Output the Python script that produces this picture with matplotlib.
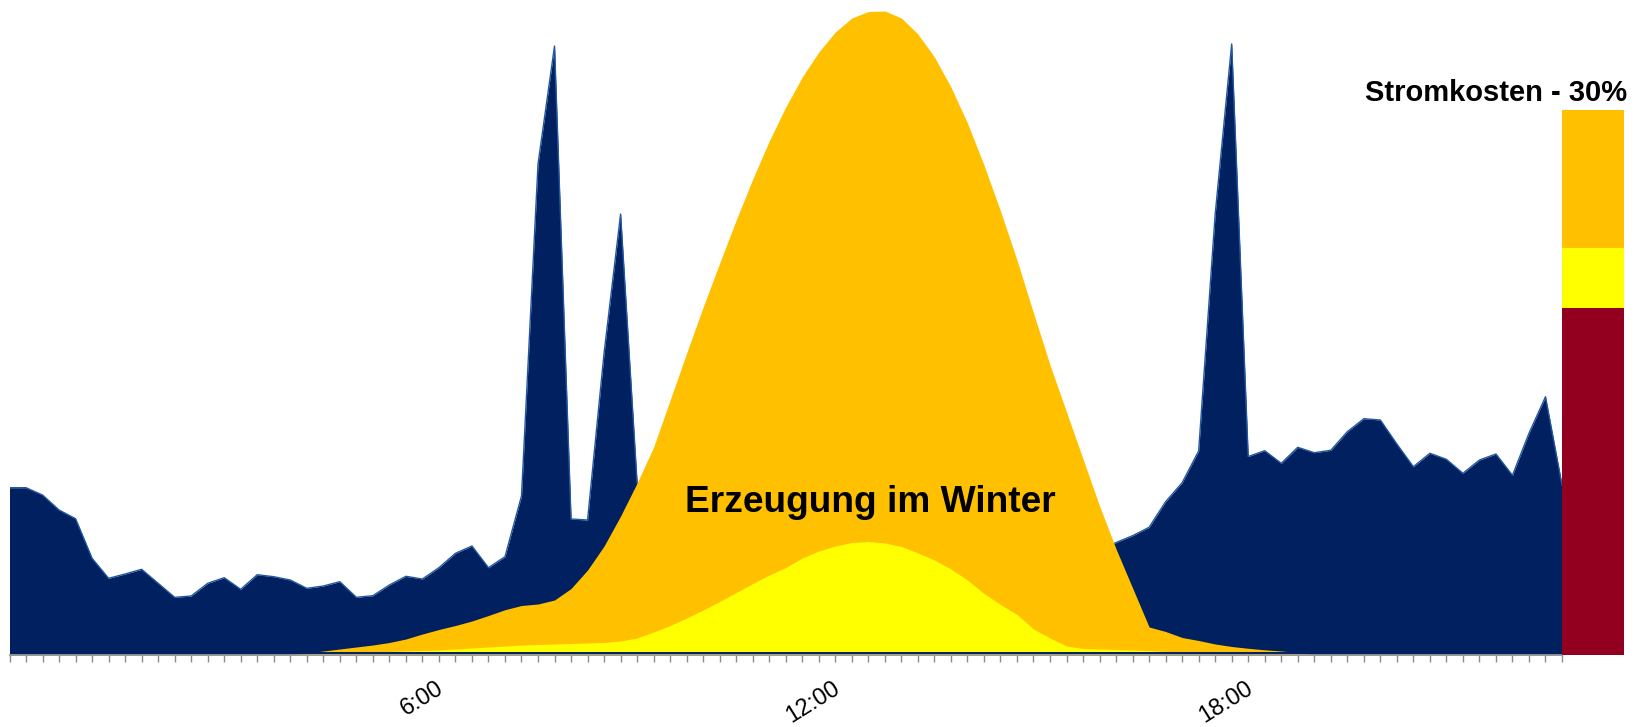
import numpy as np
import matplotlib
matplotlib.use("Agg")
import matplotlib.pyplot as plt
import matplotlib.transforms as mtransforms

plt.rcParams['font.family'] = ['Liberation Sans', 'DejaVu Sans']

# Lastgang (15-min Werte), Höhe in Pixel-Einheiten der Vorlage
load = [167.3, 167.3, 160, 145, 136.3, 96.7, 76.7, 81, 85.7, 71.7,
        57.7, 59, 71.7, 77.3, 65.7, 80.3, 78.3, 75, 66.7, 69,
        73.3, 57.7, 59.3, 70, 78.7, 76, 87.3, 101.7, 109, 87.3,
        98.3, 159, 491, 609, 136, 135, 302, 441, 172, 130,
        125, 120, 118, 122, 115, 110, 112, 108, 105, 110,
        104, 100, 106, 102, 98, 104, 100, 96, 102, 99,
        95, 101, 97, 100, 103, 104, 105, 112.5, 119.3, 127.7,
        153.3, 172.3, 204, 440.7, 611, 198.5, 204.3, 191.7, 207.7, 202.3,
        204.7, 223.3, 236.3, 235, 211, 188.3, 201.7, 195.7, 181.7, 195,
        201, 179.7, 221.7, 258.3, 170]

# PV-Erzeugung (Sommer) und Erzeugung im Winter
summer = [0] * 18 + [
    2, 4, 6, 8, 10, 12.5, 16, 21, 25.5, 29.5,
    34, 39.5, 45.3, 49.5, 51, 55, 66.5, 85, 109, 139,
    172, 208, 255, 302, 348, 392, 435, 476, 514, 548,
    578, 603, 623, 637, 643.5, 644, 637, 621, 598, 568,
    532, 490, 444, 395, 342, 290, 243, 196, 149, 106,
    67, 28, 23.5, 17.5, 14.5, 11, 8.5, 6.7, 5.2, 4,
    2.5, 0] + [0] * 15

winter = [0] * 18 + [
    1, 1.5, 2, 2.5, 3, 3.5, 4, 4.5, 5, 6,
    7, 8, 9, 10, 10.5, 11, 11.5, 12, 12.5, 14,
    17, 23, 29.5, 37, 45, 53.5, 62.5, 71.5, 80, 87.5,
    97, 104, 109, 112.5, 113.5, 112, 108.5, 102, 95, 86,
    75, 61.5, 50.5, 40.5, 26, 17, 9, 6.5, 6, 5.5,
    5, 4.5, 3.5, 2, 1, 0] + [0] * 21

label_pos = [26, 50, 75]
label_text = ['6:00', '12:00', '18:00']

# Stromkosten-Balken (Anteile von unten nach oben)
cost_shares = [63.7, 11.0, 25.3]
cost_colors = ['#93001F', '#FFFF00', '#FFC000']

W, H = 1639, 727
navy = '#002060'


def main():
    fig = plt.figure(figsize=(W / 100, H / 100), dpi=100)
    ax = fig.add_axes([9.5 / W, 72 / H, 1552.5 / W, 655 / H])

    x = np.arange(len(load))
    ax.fill_between(x, load, color=navy, lw=0, zorder=1)
    ax.plot(x, load, color='#2358a0', lw=1.0, zorder=1.5)
    ax.fill_between(x, summer, color='#FFC000', lw=0, zorder=2)
    ax.fill_between(x, winter, color='#FFFF00', lw=0, zorder=3)
    ax.axhline(2.4, color=navy, lw=1.4, zorder=4)

    ax.set_xlim(0, len(load) - 1)
    ax.set_ylim(0, 655)
    for s in ['top', 'right', 'left']:
        ax.spines[s].set_visible(False)
    ax.spines['bottom'].set_color('#9a9a9a')
    ax.spines['bottom'].set_linewidth(1.3)
    ax.spines['bottom'].set_zorder(5)

    labels = [''] * len(load)
    for p, t in zip(label_pos, label_text):
        labels[p] = t
    ax.set_xticks(x)
    ax.set_xticklabels(labels, rotation=32, ha='right', rotation_mode='anchor',
                       fontsize=17)
    ax.tick_params(axis='x', length=5, width=1, color='#8c8c8c', pad=11)
    ax.set_yticks([])
    shift = mtransforms.ScaledTranslation(-3 / 100, 0, fig.dpi_scale_trans)
    for lbl in ax.get_xticklabels():
        lbl.set_transform(lbl.get_transform() + shift)

    # Kostenbalken rechts
    bax = fig.add_axes([1562 / W, 72 / H, 62 / W, 545 / H])
    bottom = 0
    for v, c in zip(cost_shares, cost_colors):
        bax.bar(0, v, bottom=bottom, width=1, color=c, lw=0)
        bottom += v
    bax.set_xlim(-0.5, 0.5)
    bax.set_ylim(0, sum(cost_shares))
    bax.axis('off')

    fig.text(1627.6 / W, 1 - 101.4 / H, 'Stromkosten - 30%', ha='right',
             va='baseline', fontsize=21, weight='bold')
    fig.text(870 / W, 1 - 512 / H, 'Erzeugung im Winter', ha='center',
             va='baseline', fontsize=26.7, weight='bold', zorder=10)

    fig.savefig('out.png', dpi=100)


if __name__ == "__main__":
    main()
